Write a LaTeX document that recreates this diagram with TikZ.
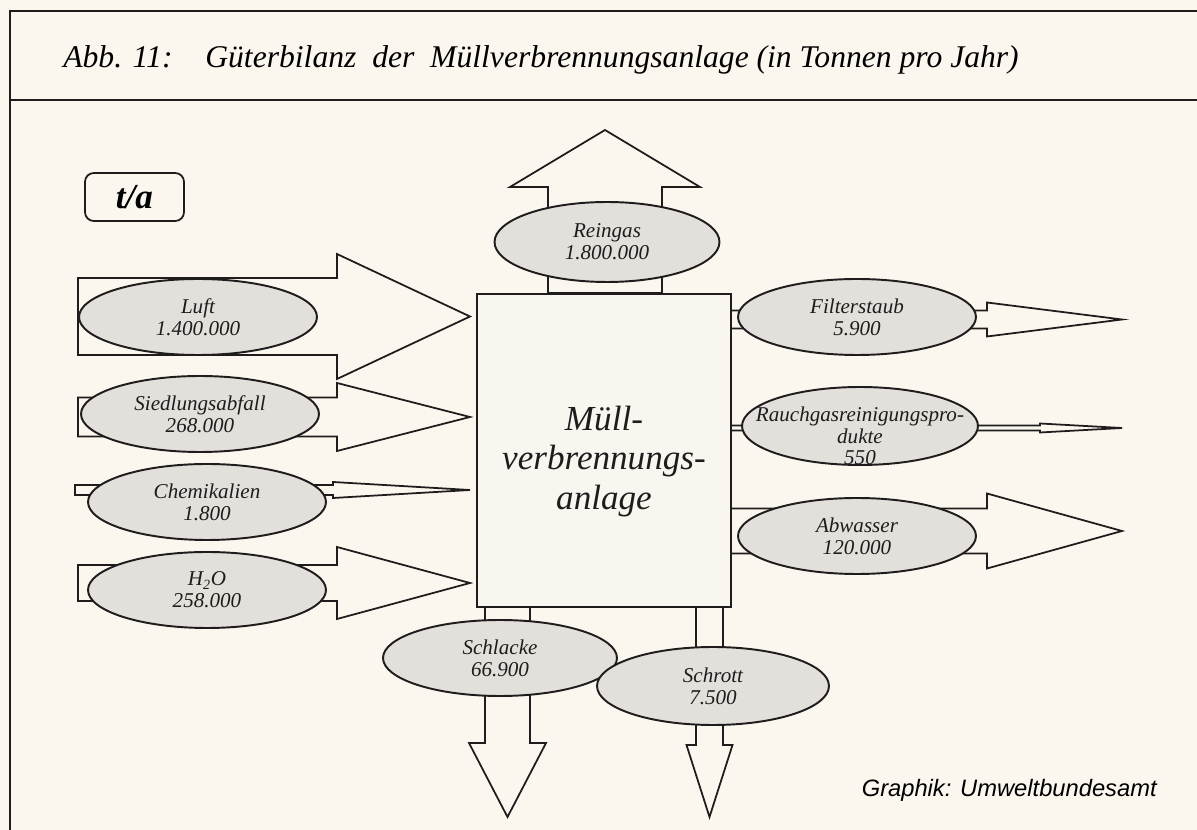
\documentclass[tikz,border=0pt]{standalone}
\usepackage{fontspec}
\setmainfont{Liberation Serif}
\newfontfamily\creditfont{Liberation Sans}
\usepackage{tikz}
\usetikzlibrary{shapes.geometric, positioning}
\definecolor{paper}{RGB}{251,246,238}
\definecolor{inkline}{RGB}{30,28,28}
\definecolor{stockgray}{RGB}{227,224,220}
\definecolor{plantfill}{RGB}{249,245,239}
\tikzset{
  stock/.style={ellipse, draw=inkline, fill=stockgray, line width=1.1pt,
    minimum width=4.76cm, minimum height=1.52cm, inner sep=0pt},
  stocktext/.style={align=center, inner sep=0pt,
    font=\fontsize{12}{12.4}\selectfont\itshape, text=inkline},
  flowarrow/.style={draw=inkline, fill=paper, line width=1pt, line join=miter},
  frameline/.style={draw=inkline, line width=1.2pt},
  plant/.style={rectangle, draw=inkline, fill=plantfill, line width=1.1pt,
    minimum width=5.08cm, minimum height=6.26cm},
  planttext/.style={align=center, inner sep=0pt,
    font=\fontsize{20}{22.7}\selectfont\itshape, text=inkline},
  unitbox/.style={rectangle, draw=inkline, line width=1pt, rounded corners=5pt,
    minimum width=1.98cm, minimum height=0.96cm,
    font=\fontsize{20}{22}\selectfont\bfseries\itshape}
}
% horizontal block arrow: x start, x head base, x tip, y centre, shaft half, head half
\newcommand{\harrow}[6]{%
  \draw[flowarrow] (#1,#4-#5) -- (#2,#4-#5) -- (#2,#4-#6) -- (#3,#4)
    -- (#2,#4+#6) -- (#2,#4+#5) -- (#1,#4+#5) -- cycle;}
% vertical block arrow: x centre, y start, y head base, y tip, shaft half, head half
\newcommand{\varrow}[6]{%
  \draw[flowarrow] (#1-#5,#2) -- (#1-#5,#3) -- (#1-#6,#3) -- (#1,#4)
    -- (#1+#6,#3) -- (#1+#5,#3) -- (#1+#5,#2) -- cycle;}

\begin{document}
\begin{tikzpicture}[x=0.02cm, y=-0.02cm]
  \useasboundingbox[fill=paper] (0,0) rectangle (1197,830);
  % frame and title
  \draw[frameline] (1197,11) -- (10,11) -- (10,830);
  \draw[frameline] (10,100) -- (1197,100);
  \node[anchor=base west, inner sep=0pt, font=\fontsize{18}{20}\selectfont\itshape]
    (abb) at (63,68) {Abb. 11:};
  \node[anchor=base west, inner sep=0pt, font=\fontsize{18}{20}\selectfont\itshape]
    (title) at (205,68) {Güterbilanz\ \ der\ \ Müllverbrennungsanlage (in Tonnen pro Jahr)};
  \node[unitbox] (unit) at (134.5,197) {t/a};

  % inputs
  \harrow{78}{337}{470}{316.5}{38.5}{62.5}
  \harrow{78}{337}{470}{417}{19.5}{34}
  \harrow{75}{333}{470}{490}{5}{8}
  \harrow{78}{337}{470}{583}{18}{36}
  % outputs
  \varrow{605}{293}{187}{130}{57}{95}
  \harrow{731}{987}{1122}{319.5}{9}{17}
  \harrow{731}{1040}{1122}{428}{2.5}{4.5}
  \harrow{731}{987}{1122}{531}{22.5}{37.5}
  \varrow{507.5}{607}{743}{817}{22.5}{38.5}
  \varrow{709.5}{607}{745}{817}{13.5}{23}

  % plant
  \node[plant, label={[planttext, yshift=-0.22cm]center:Müll-\\verbrennungs-\\anlage}]
    (mva) at (604,450.5) {};

  % stocks left
  \node[stock, label={[stocktext]center:Luft\\1.400.000}] (luft) at (198,317) {};
  \node[stock, label={[stocktext]center:Siedlungsabfall\\268.000}] (sied) at (200,414) {};
  \node[stock, label={[stocktext]center:Chemikalien\\1.800}] (chem) at (207,502) {};
  \node[stock, label={[stocktext]center:H\textsubscript{2}O\\258.000}] (wasser) at (207,590) {};
  % stocks top and right
  \node[stock, minimum width=4.5cm, minimum height=1.6cm,
        label={[stocktext]center:Reingas\\1.800.000}] (rein) at (607,242) {};
  \node[stock, label={[stocktext]center:Filterstaub\\5.900}] (filter) at (857,317) {};
  \node[stock, minimum width=4.72cm, minimum height=1.56cm,
        label={[stocktext, yshift=-0.2cm]center:Rauchgasreinigungspro-\\dukte\\550}] (rauch) at (860,426) {};
  \node[stock, label={[stocktext]center:Abwasser\\120.000}] (abw) at (857,536) {};
  % stocks bottom
  \node[stock, minimum width=4.68cm, label={[stocktext]center:Schlacke\\66.900}] (schlacke) at (500,658) {};
  \node[stock, minimum width=4.64cm, minimum height=1.56cm,
        label={[stocktext]center:Schrott\\7.500}] (schrott) at (713,686) {};

  % source
  \node[anchor=base east, inner sep=0pt, font=\fontsize{13.5}{15}\selectfont\creditfont\itshape]
    (credit) at (1157,796) {Graphik: Umweltbundesamt};
\end{tikzpicture}
\end{document}
